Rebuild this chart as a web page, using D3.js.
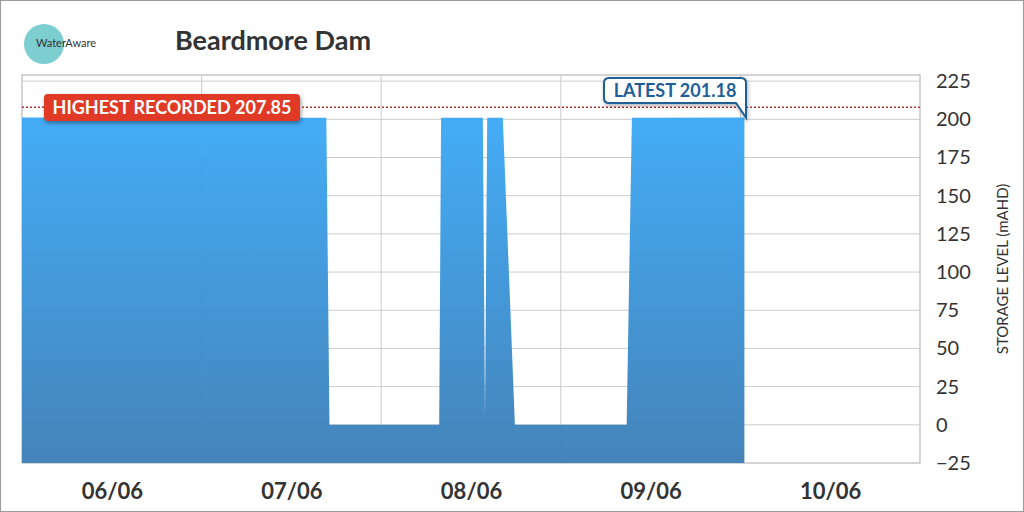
<!DOCTYPE html>
<html><head><meta charset="utf-8">
<script src="https://cdn.jsdelivr.net/npm/d3@7"></script>
<style>body{margin:0;background:#fff}svg{font-family:Lato,"Open Sans",sans-serif}</style>
</head><body><div id="chart"></div>
<script>
const times = ["2023-06-05T12:00","2023-06-07T04:40","2023-06-07T05:05","2023-06-07T19:45","2023-06-07T20:00",
  "2023-06-08T01:35","2023-06-08T01:52","2023-06-08T02:10","2023-06-08T04:15","2023-06-08T05:52",
  "2023-06-08T20:48","2023-06-08T21:30","2023-06-09T12:32"];
const levels = [201.18,201,0,0,201,201,5,201,201,0,0,201,201.18];
const yTicks = [-25,0,25,50,75,100,125,150,175,200,225];
const dayLabels = ["2023-06-06","2023-06-07","2023-06-08","2023-06-09","2023-06-10"];
const highest = 207.85, latest = 201.18;

const parse = d3.timeParse("%Y-%m-%dT%H:%M"), pDay = d3.timeParse("%Y-%m-%d");
const data = times.map((t,i)=>({t:parse(t),v:levels[i]}));
const W=1024,H=512, L=22,R=920,T=75,B=463;
const svg=d3.select("#chart").append("svg").attr("width",W).attr("height",H);
svg.append("rect").attr("x",0.5).attr("y",0.5).attr("width",W-1).attr("height",H-1).attr("fill","#fff").attr("stroke","#999");

const x=d3.scaleTime().domain([pDay("2023-06-05"),pDay("2023-06-10")].map(d=>d3.timeHour.offset(d,12))).range([L,R]);
const y=d3.scaleLinear().domain([-25,229]).range([B,T]);

const defs=svg.append("defs");
const g=defs.append("linearGradient").attr("id","fill").attr("x1",0).attr("x2",0).attr("y1",0).attr("y2",1);
g.append("stop").attr("offset","0%").attr("stop-color","#3eaaf6");
g.append("stop").attr("offset","100%").attr("stop-color","#3f80b8");

svg.append("rect").attr("x",L).attr("y",T).attr("width",R-L).attr("height",B-T).attr("fill","#fff").attr("stroke","#aaa");
// grid
svg.append("g").selectAll("line").data(yTicks.slice(1)).join("line")
  .attr("x1",L).attr("x2",R).attr("y1",d=>y(d)).attr("y2",d=>y(d)).attr("stroke","#ccc");
svg.append("g").selectAll("line").data(dayLabels.slice(0,4)).join("line")
  .attr("x1",d=>x(d3.timeHour.offset(pDay(d),12))).attr("x2",d=>x(d3.timeHour.offset(pDay(d),12)))
  .attr("y1",T).attr("y2",B).attr("stroke","#ccc");

const area=d3.area().x(d=>x(d.t)).y0(y(-25)).y1(d=>y(d.v));
svg.append("path").datum(data).attr("d",area).attr("fill","url(#fill)").attr("opacity",0.97);

// highest line
svg.append("line").attr("x1",L).attr("x2",R).attr("y1",y(highest)).attr("y2",y(highest))
  .attr("stroke","#c0302a").attr("stroke-width",1.5).attr("stroke-dasharray","2,2");

// axes
const ya=svg.append("g").attr("transform",`translate(${R+16},0)`)
  .call(d3.axisRight(y).tickValues(yTicks).tickSize(0).tickPadding(0));
ya.select(".domain").remove();
ya.selectAll("text").attr("font-size",20).attr("fill","#333").attr("font-family","Lato");
const xa=svg.append("g").attr("transform",`translate(0,${B+16})`)
  .call(d3.axisBottom(x).tickValues(dayLabels.map(pDay)).tickFormat(d3.timeFormat("%d/%m")).tickSize(0).tickPadding(0));
xa.select(".domain").remove();
xa.selectAll("text").attr("font-size",22).attr("font-weight","bold").attr("fill","#333").attr("font-family","Lato").attr("dy","0.9em");
svg.append("text").attr("transform","translate(1008,269) rotate(-90)").attr("text-anchor","middle")
  .attr("font-size",15).attr("fill","#333").text("STORAGE LEVEL (mAHD)");

// title & logo
svg.append("text").attr("x",175).attr("y",50).attr("font-size",27).attr("font-weight","bold").attr("fill","#333").text("Beardmore Dam");
svg.append("circle").attr("cx",44).attr("cy",44).attr("r",20).attr("fill","#5cc2c4").attr("opacity",0.8);
svg.append("text").attr("x",36).attr("y",47).attr("font-size",11).attr("fill","#333").text("WaterAware");

// highest label
const hl=svg.append("g");
hl.append("rect").attr("x",44).attr("y",94).attr("width",256).attr("height",27).attr("rx",4).attr("fill","#e03a27")
  .attr("style","filter:drop-shadow(1px 2px 2px rgba(0,0,0,.4))");
hl.append("text").attr("x",172).attr("y",114).attr("text-anchor","middle").attr("font-size",18).attr("font-weight","bold").attr("fill","#fff").text("HIGHEST RECORDED " + highest);

// latest callout
const lx=x(data[data.length-1].t), ly=y(latest);
svg.append("path").attr("d",`M609,78 H741 Q746,78 746,83 V${ly} L736,103 H609 Q604,103 604,98 V83 Q604,78 609,78 Z`)
  .attr("fill","#fff").attr("stroke","#1f5f96").attr("stroke-width",2)
  .attr("style","filter:drop-shadow(1px 2px 2px rgba(0,0,0,.3))");
svg.append("text").attr("x",675).attr("y",97).attr("text-anchor","middle").attr("font-size",18).attr("font-weight","bold").attr("fill","#1f5f96").text("LATEST " + latest);
</script></body></html>
